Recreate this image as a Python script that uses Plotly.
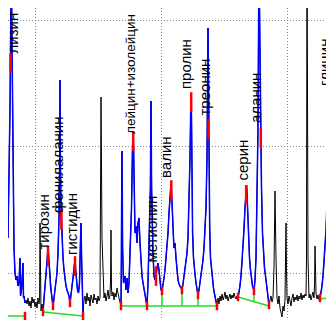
import plotly.graph_objects as go

# ---- chromatogram trace (time in scan units, detector signal in a.u.) ----
time = [0, 2, 3.3, 4.3, 5, 6, 7, 8, 9, 10, 11, 12, 12.5, 13.5, 15, 15.5, 16, 17,
        18, 19, 20, 21, 22, 23, 24, 25, 26, 27, 28, 29, 30, 31, 31.6, 32, 32.5, 33, 34, 35,
        36, 37, 38, 39, 40, 40.8, 41.5, 42.5, 43.5, 45, 46, 47, 48, 49, 50, 51, 51.7, 52, 52.4, 53,
        53.8, 55, 56, 57, 58, 59, 60, 61, 62, 63, 64, 65, 66, 67, 67.7, 68.5, 69.5, 70.5, 71.5, 72.3,
        73, 73.6, 74.3, 75,
        76, 77, 78, 79, 80, 81, 82, 83, 84, 85, 86, 87, 88, 89, 90, 91, 92, 93, 94, 95, 96, 97, 98, 99,
        100, 101, 102, 102.6, 103, 103.5, 104, 105, 106, 107, 108, 109, 110, 111, 112,
        113, 113.5, 114, 114.6, 115.5, 117, 118, 119, 120, 121, 122, 123.5, 124.5, 125, 125.6, 126.3,
        127, 128, 129, 130, 131, 132, 133, 134, 135, 136, 137, 138, 139, 140, 141, 142.4, 143, 143.6,
        145, 146, 147, 148, 149, 150, 151, 152, 153, 154, 155, 156, 157, 158, 159, 160, 161, 162, 163,
        163.8, 164.5, 165.5, 166, 167, 168, 169, 170, 171, 172, 173, 174, 175, 176, 177, 178, 179, 180,
        181, 182, 182.6, 183, 183.5, 184, 184.6, 185.5, 186, 187, 188, 189, 190, 191, 192, 193, 194,
        195, 196, 197, 198, 199, 199.6, 200, 200.4, 201, 201.7, 202.5, 203.5, 204.5, 205.5, 206.5,
        207.5, 208.5, 209,
        210, 211, 212, 213, 214, 215, 216, 217, 218, 219, 220, 221, 222, 223, 224, 225, 226, 227, 228, 229,
        230, 231, 232, 233, 234, 235, 236, 237, 238, 238.5, 239, 239.7, 240.5, 241.5, 242.5, 243.5,
        244.5, 246, 247, 248, 249, 250, 250.7, 251, 251.5, 252.5, 253.5, 254.5, 255.5, 256.5, 257.5,
        258.5, 259.5, 261,
        262, 263, 264, 265, 266, 267, 268, 269, 270, 271, 272, 273, 274, 275, 276, 277, 277.6, 278, 278.5,
        279, 280, 281, 282, 283, 284, 285, 286, 287, 288, 289, 290, 291, 292, 293, 294, 295, 296, 297, 298,
        298.5, 299, 299.5, 300, 301, 302, 303, 304, 305, 306, 306.6, 307, 307.5, 308, 309, 310, 311,
        312, 313, 314, 315, 316, 317, 318, 319, 320, 321, 321.6, 322, 322.5, 323.2, 324, 325, 326, 327,
        328, 329, 330, 331, 332, 333, 334]

signal = [90, 220, 360, 240, 140, 80, 55, 48, 52, 42, 45, 70, 32, 38, 65, 30, 32, 25,
          28, 24, 30, 22, 27, 20, 31, 25, 29, 21, 26, 20, 30, 24, 30, 105, 22, 17, 24, 16,
          30, 40, 52, 65, 80, 70, 55, 42, 34, 22, 30, 38, 45, 55, 75, 110, 170, 248, 170, 120,
          95, 70, 58, 48, 42, 38, 35, 32, 25, 32, 40, 50, 60, 68, 58, 45, 38, 35, 45, 80,
          105, 70, 35, 15,
          28, 32, 24, 35, 27, 31, 22, 33, 29, 25, 34, 28, 30, 24, 32, 27, 30, 231, 90, 52, 30, 35, 27, 32,
          38, 29, 33, 50, 98, 40, 32, 36, 28, 35, 31, 40, 33, 30, 26,
          22, 70, 177, 80, 45, 52, 38, 50, 35, 45, 70, 120, 180, 195, 180, 120,
          95, 102, 85, 105, 110, 85, 65, 52, 45, 38, 32, 28, 22, 45, 80, 140, 227, 140,
          75, 52, 48, 55, 62, 65, 58, 45, 38, 37, 42, 50, 58, 70, 80, 95, 115, 135, 145,
          130, 105, 90, 80, 85, 70, 55, 48, 44, 42, 40, 38, 44, 52, 58, 65, 75, 90,
          120, 170, 210, 235, 210, 150, 95, 70, 62, 54, 45, 38, 33, 38, 45, 52, 58,
          68, 80, 95, 120, 170, 260, 300, 260, 170, 100, 70, 58, 48, 40, 34,
          29, 25, 22,
          30, 24, 32, 27, 34, 28, 31, 36, 29, 33, 27, 32, 34, 29, 33, 30, 35, 31, 29, 32,
          31, 35, 42, 52, 65, 80, 98, 120, 138, 143, 135, 115, 90, 70, 58, 48,
          42, 37, 48, 70, 120, 200, 320, 380, 320, 210, 140, 95, 72, 60, 52,
          44, 34, 23,
          28, 32, 26, 30, 60, 137, 70, 30, 24, 32, 20, 14, 11, 22, 17, 28, 60, 105, 58,
          30, 24, 32, 27, 22, 30, 34, 26, 31, 28, 33, 27, 32, 29, 35, 28, 33, 30, 34, 32,
          70, 400, 220, 70, 30, 34, 28, 32, 36, 30, 45, 82, 40, 35, 29, 33, 28,
          30, 35, 42, 52, 65, 80, 98, 125, 160, 200, 225, 232, 220, 190, 145, 110, 85, 65,
          50, 38, 31, 38, 50, 58, 62]

# integrated peak groups (start / end time)
group_start = [0, 35, 113, 230, 312]
group_end = [17, 75, 209, 261, 334]

# baselines of the groups
base_t0 = [0, 35, 113, 230, 312]
base_s0 = [12, 16, 22, 31, 29]
base_t1 = [17, 75, 209, 261, 330]
base_s1 = [12, 12, 22, 22, 31]

# drop lines between neighbouring peaks
drop_time = [154, 174, 190, 246]
drop_top = [37, 38, 33, 37]
drop_bottom = [22, 22, 22, 26.5]

# peak boundaries
bound_time = [17, 35, 45, 62, 75, 113, 139, 154, 174, 190, 209, 230, 246, 261, 312, 330]
bound_signal = [12, 16, 22, 25, 12, 22, 22, 37, 38, 33, 22, 31, 37, 23, 30, 31]

# identified peaks
peak_names = ["лизин", "тирозин", "фенилаланин", "гистидин", "лейцин+изолейцин", "метионин",
              "валин", "пролин", "треонин", "серин", "аланин", "глицин"]
peak_time = [2.5, 40, 53.4, 67, 125.2, 148, 163.3, 183.2, 200.6, 238.2, 252.8, 322.2]
peak_signal = [265, 72, 108, 62, 187, 52, 138, 226, 199, 133, 190, 225]
label_time = [4, 35, 49, 63, 122, 143, 157, 177, 196, 234, 247, 316]
label_signal = [272, 76, 113, 71, 192, 63, 148, 237, 210, 145, 203, 240]
label_size = [15, 15, 15, 15, 13.5, 15, 15, 15, 15, 15, 15, 15]

# grid positions
x_grid = [27, 153, 279]
y_grid = [55, 181.5, 308]

fig = go.Figure()

# full trace in black
fig.add_trace(go.Scatter(x=time, y=signal, mode="lines",
                         line=dict(color="black", width=1), hoverinfo="skip"))

# peak regions in blue
for a, b in zip(group_start, group_end):
    idx = [i for i, t in enumerate(time) if a <= t <= b]
    fig.add_trace(go.Scatter(x=[time[i] for i in idx], y=[signal[i] for i in idx], mode="lines",
                             line=dict(color="#0000ff", width=1.5), hoverinfo="skip"))

# baselines and drop lines in green
bx, by = [], []
for t0, s0, t1, s1 in zip(base_t0, base_s0, base_t1, base_s1):
    bx += [t0, t1, None]
    by += [s0, s1, None]
for t, s0, s1 in zip(drop_time, drop_top, drop_bottom):
    bx += [t, t, None]
    by += [s0, s1, None]
fig.add_trace(go.Scatter(x=bx, y=by, mode="lines", line=dict(color="#22dd22", width=1.5),
                         hoverinfo="skip"))

# boundary markers
fig.add_trace(go.Scatter(x=bound_time, y=bound_signal, mode="markers",
                         marker=dict(symbol="line-ns-open", size=6, color="red",
                                     line=dict(color="red", width=2.5)), hoverinfo="skip"))
# peak markers
fig.add_trace(go.Scatter(x=peak_time, y=peak_signal, mode="markers",
                         marker=dict(symbol="line-ns-open", size=14, color="red",
                                     line=dict(color="red", width=2.5)), hoverinfo="skip"))

for name, t, s, fs in zip(peak_names, label_time, label_signal, label_size):
    fig.add_annotation(x=t, y=s, text=name, showarrow=False, textangle=-90,
                       xanchor="center", yanchor="bottom",
                       font=dict(family="Liberation Sans, Arial, sans-serif", size=fs, color="black"))

fig.update_layout(
    width=334, height=320, margin=dict(l=0, r=0, t=0, b=0),
    paper_bgcolor="white", plot_bgcolor="white", showlegend=False,
    xaxis=dict(range=[0, 334], tickvals=x_grid, showticklabels=False, ticks="",
               showgrid=True, gridcolor="#888888", griddash="1px,2px", gridwidth=1,
               zeroline=False, showline=False, fixedrange=True),
    yaxis=dict(range=[0, 320], tickvals=y_grid, showticklabels=False, ticks="",
               showgrid=True, gridcolor="#888888", griddash="1px,2px", gridwidth=1,
               zeroline=False, showline=False, fixedrange=True),
)

fig.write_html("out.html")
